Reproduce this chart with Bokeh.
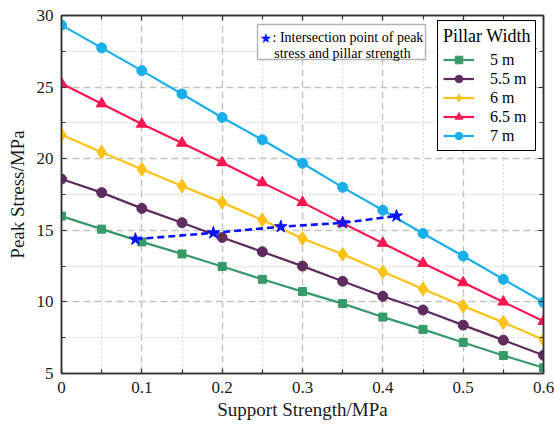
from bokeh.plotting import figure
from bokeh.models import (Range1d, FixedTicker, LinearAxis, Legend, LegendItem,
                          BoxAnnotation, Label)
from bokeh.embed import file_html
from bokeh.resources import INLINE

# ---------------- data ----------------
support = [0, 0.05, 0.1, 0.15, 0.2, 0.25, 0.3, 0.35, 0.4, 0.45, 0.5, 0.55, 0.6]
w5 = [15.99, 15.08, 14.19, 13.35, 12.47, 11.58, 10.72, 9.88, 8.94, 8.08, 7.17, 6.26, 5.40]
w55 = [18.58, 17.63, 16.53, 15.53, 14.50, 13.50, 12.50, 11.44, 10.39, 9.43, 8.38, 7.33, 6.28]
w6 = [21.67, 20.45, 19.26, 18.10, 16.95, 15.72, 14.43, 13.33, 12.10, 10.90, 9.71, 8.57, 7.36]
w65 = [25.25, 23.84, 22.42, 21.09, 19.73, 18.33, 16.95, 15.50, 14.10, 12.70, 11.35, 10.00, 8.65]
w7 = [29.33, 27.74, 26.15, 24.52, 22.88, 21.32, 19.68, 18.00, 16.40, 14.78, 13.20, 11.58, 9.97]
star_x = [0.092, 0.189, 0.273, 0.350, 0.417]
star_y = [14.38, 14.82, 15.25, 15.52, 16.00]
series_labels = ["5 m", "5.5 m", "6 m", "6.5 m", "7 m"]
legend_title = "Pillar Width"
x_ticks = [0, 0.1, 0.2, 0.3, 0.4, 0.5, 0.6]
x_minor = [0.05, 0.15, 0.25, 0.35, 0.45, 0.55]
y_ticks = [5, 10, 15, 20, 25, 30]
y_minor = [7.5, 12.5, 17.5, 22.5, 27.5]

FONT = "Liberation Serif"

p = figure(width=554, height=427, output_backend="svg", toolbar_location=None,
           x_range=Range1d(0, 0.6), y_range=Range1d(5, 30),
           min_border_left=61, min_border_right=11, min_border_top=15,
           min_border_bottom=54)
p.background_fill_color = "white"
p.border_fill_color = "white"
p.outline_line_color = "#333333"
p.outline_line_width = 1.5

xt = FixedTicker(ticks=x_ticks, minor_ticks=x_minor)
yt = FixedTicker(ticks=y_ticks, minor_ticks=y_minor)

def style_axis(ax):
    ax.axis_line_color = "#333333"
    ax.axis_line_width = 1.5
    ax.major_tick_in = 5
    ax.major_tick_out = 0
    ax.minor_tick_in = 4
    ax.minor_tick_out = 0
    ax.major_tick_line_color = "#333333"
    ax.minor_tick_line_color = "#333333"
    ax.major_tick_line_width = 1.2
    ax.minor_tick_line_width = 1.2
    ax.major_label_text_font = FONT
    ax.major_label_text_font_size = "17px"
    ax.major_label_text_color = "#1a1a1a"
    ax.major_label_standoff = 8
    ax.axis_label_text_font = FONT
    ax.axis_label_text_font_size = "19px"
    ax.axis_label_text_font_style = "normal"
    ax.axis_label_text_color = "#1a1a1a"

p.xaxis.ticker = xt
p.yaxis.ticker = yt
p.xaxis.major_label_overrides = {0: "0"}
p.xaxis.axis_label = "Support Strength/MPa"
p.yaxis.axis_label = "Peak Stress/MPa"
style_axis(p.xaxis[0])
style_axis(p.yaxis[0])
p.xaxis.axis_label_standoff = 3
p.yaxis.axis_label_standoff = 6

top_ax = LinearAxis(ticker=xt, major_label_overrides={t: "" for t in x_ticks})
right_ax = LinearAxis(ticker=yt, major_label_overrides={t: "" for t in y_ticks})
style_axis(top_ax)
style_axis(right_ax)
top_ax.major_label_standoff = 0
right_ax.major_label_standoff = 0
p.add_layout(top_ax, "above")
p.add_layout(right_ax, "right")

for g in (p.xgrid[0], p.ygrid[0]):
    g.grid_line_color = "#c2c2c2"
    g.grid_line_dash = "7 4"
    g.grid_line_width = 1.4
    g.minor_grid_line_color = "#b5b5b5"
    g.minor_grid_line_dash = "1 3"
    g.minor_grid_line_width = 1.1

colors = ["#379a6b", "#5e2c5f", "#ffc214", "#ff1650", "#1bafea"]
markers = ["square", "circle", "diamond", "triangle", "circle"]
sizes = [8, 10, 14, 11, 10]
all_series = [w5, w55, w6, w65, w7]

items = []
for vals, c, m, s, lab in zip(all_series, colors, markers, sizes, series_labels):
    ln = p.line(support, vals, line_color=c, line_width=2.2)
    sc = p.scatter(support, vals, marker=m, size=s, fill_color=c, line_color=c)
    items.append(LegendItem(label=lab, renderers=[ln, sc]))

p.line(star_x, star_y, line_color="#0a14ff", line_width=2.6, line_dash="7 4")
p.scatter(star_x, star_y, marker="star", size=13, fill_color="#0a14ff", line_color="#0a14ff")

def screen_box(l, r, b, t, **kw):
    return BoxAnnotation(left=l, right=r, bottom=b, top=t,
                         left_units="screen", right_units="screen",
                         bottom_units="screen", top_units="screen", **kw)

# annotation box
p.add_layout(screen_box(196, 364, 314, 349, fill_color="white", fill_alpha=1,
                        line_color="black", line_width=1.4))
p.add_layout(Label(x=198, y=336, x_units="screen", y_units="screen", text="★",
                   text_font="DejaVu Sans", text_font_size="14px", text_color="#0a14ff",
                   text_baseline="alphabetic", text_align="left"))
p.add_layout(Label(x=211, y=336, x_units="screen", y_units="screen",
                   text=": Intersection point of peak",
                   text_font=FONT, text_font_size="14px", text_color="black",
                   text_baseline="alphabetic", text_align="left"))
p.add_layout(Label(x=281, y=320, x_units="screen", y_units="screen",
                   text="stress and pillar strength",
                   text_font=FONT, text_font_size="14px", text_color="black",
                   text_baseline="alphabetic", text_align="center"))

legend = Legend(items=items, location=(376, 222), orientation="vertical",
                title=legend_title, title_text_font=FONT, title_text_font_size="18px",
                title_text_font_style="normal", title_text_color="black",
                title_standoff=3,
                padding=5, margin=0, spacing=0, label_height=19, glyph_height=19,
                glyph_width=31, label_standoff=16,
                border_line_color="black", border_line_width=1.4, border_line_alpha=1,
                background_fill_color="white", background_fill_alpha=1,
                label_text_font=FONT, label_text_font_size="16px",
                label_text_color="black")
p.add_layout(legend)
# separator under the legend header, drawn above the legend
p.add_layout(screen_box(376, 475, 324.3, 325.7, fill_color="black", fill_alpha=1,
                        line_color=None, level="overlay"))

open("out.html", "w").write(file_html(p, INLINE))
